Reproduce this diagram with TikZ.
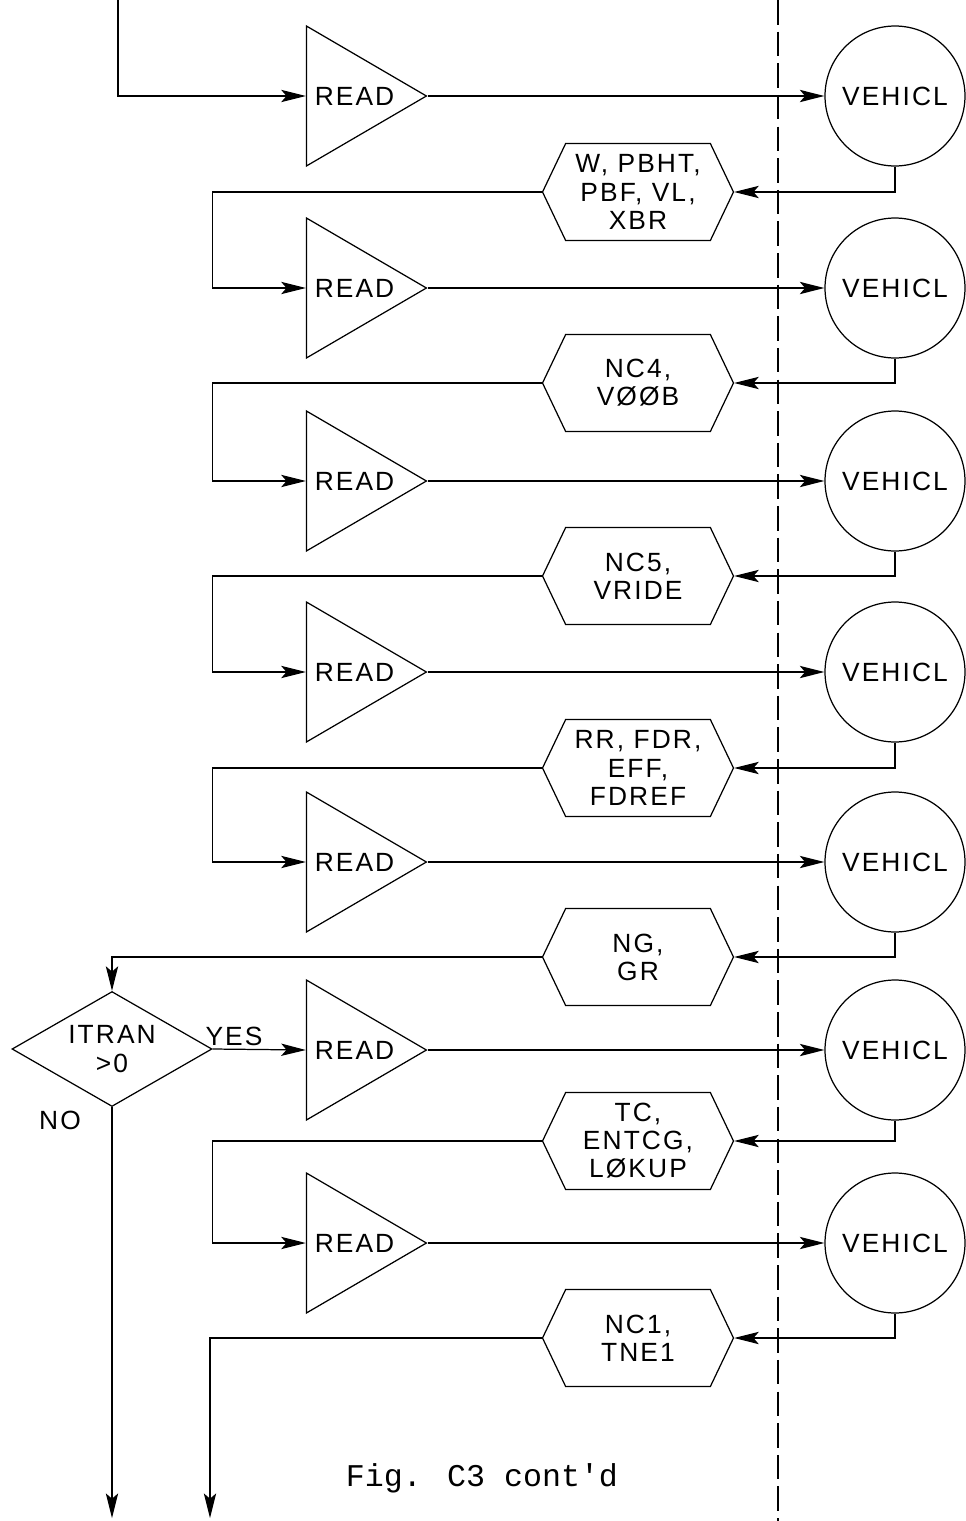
\documentclass[tikz,border=0pt]{standalone}
\usepackage{fontspec}
\newfontfamily\flowfont{Liberation Sans}[LetterSpace=8]
\newfontfamily\capfont{Liberation Mono}[Ligatures=TeXOff]
\usetikzlibrary{arrows.meta,shapes.geometric,shapes.symbols}

\begin{document}
\begin{tikzpicture}[x=.02cm,y=-.02cm,line width=.7pt,
  font=\flowfont\fontsize{15}{16}\selectfont,
  flow/.style={-{Stealth[length=14pt,width=7pt,inset=3pt]}},
  readtri/.style={draw,isosceles triangle,isosceles triangle stretches,
    minimum width=2.8cm,minimum height=2.4cm,inner sep=0pt,anchor=apex},
  vcirc/.style={draw,circle,minimum size=2.8cm,inner sep=0pt},
  hexbox/.style={draw,signal,signal to=west and east,signal pointer angle=129,
    minimum width=3.82cm,minimum height=1.94cm,inner sep=0pt,align=center},
  testbox/.style={draw,diamond,aspect=1.74,minimum width=4cm,minimum height=2.3cm,
    inner sep=0pt,align=center}]
 \useasboundingbox (0,0) rectangle (966,1521);
 \draw[dash pattern=on 14pt off 4pt] (778,0)--(778,1521);
 % one READ / VEHICL / output row each
 \foreach \n/\ry/\hy/\hlab in {1/96/192/{W, PBHT,\\PBF, VL,\\XBR},2/288/383/{NC4,\\VØØB},
   3/481/576/{NC5,\\VRIDE},4/672/768/{RR, FDR,\\EFF,\\FDREF},5/862/957/{NG,\\GR},
   6/1050/1141/{TC,\\ENTCG,\\LØKUP},7/1243/1338/{NC1,\\TNE1}}{
  \node[readtri] (rd\n) at (428,\ry) {READ};
  \node[vcirc] (vc\n) at (895,\ry) {VEHICL};
  \node[hexbox] (hx\n) at (638,\hy) {\hlab};
  \draw[flow] (rd\n.apex)--(vc\n.west);
  \draw[flow] (vc\n.south) |- (hx\n.east);
 }
 \foreach \n/\m in {1/2,2/3,3/4,4/5,6/7}
  \draw[flow] (hx\n.west)--++(-329,0) |- (rd\m.west);
 \coordinate (entry) at (118,0);
 \draw[flow] (entry) |- (rd1.west);
 \node[testbox] (itran) at (112,1049) {ITRAN\\>0};
 \draw[flow] (hx5.west) -| (itran.north);
 \draw[flow] (itran.east)--(rd6.west);
 \node (yes) at (234,1036) {YES};\node (no) at (60,1120) {NO};
 \coordinate (exitno) at (112,1518);\coordinate (exitmain) at (210,1518);
 \draw[flow] (itran.south)--(exitno);
 \draw[flow] (hx7.west) -| (exitmain);
 \node[font=\capfont\fontsize{18}{20}\selectfont] (cap) at (482,1478) {Fig. C3 cont'd};
\end{tikzpicture}
\end{document}
